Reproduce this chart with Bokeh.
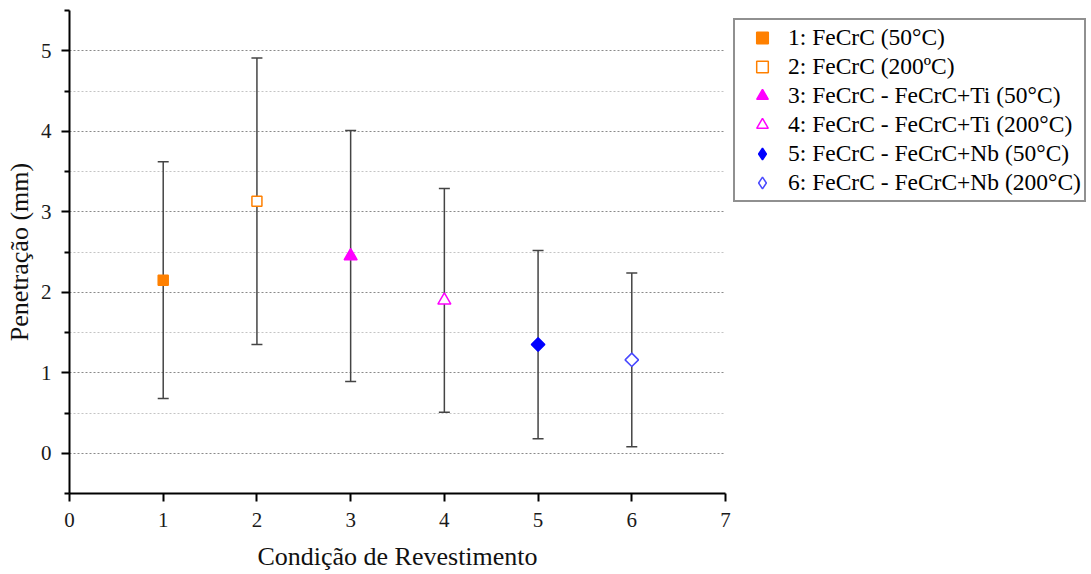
from bokeh.plotting import figure
from bokeh.models import (ColumnDataSource, Whisker, TeeHead, Legend, LegendItem,
                          FixedTicker, Range1d)
from bokeh.embed import file_html
from bokeh.resources import INLINE

# ---- data ----
conditions = [1, 2, 3, 4, 5, 6]
means = [2.15, 3.13, 2.45, 1.90, 1.35, 1.16]
errors = [1.47, 1.78, 1.56, 1.39, 1.17, 1.08]
labels = [
    "1: FeCrC (50°C)",
    "2: FeCrC (200ºC)",
    "3: FeCrC - FeCrC+Ti (50°C)",
    "4: FeCrC - FeCrC+Ti (200°C)",
    "5: FeCrC - FeCrC+Nb (50°C)",
    "6: FeCrC - FeCrC+Nb (200°C)",
]
markers = ["square", "square", "triangle", "triangle", "square", "square"]
legend_markers = ["square", "square", "triangle", "triangle", "diamond", "diamond"]
angles = [0, 0, 0, 0, 0.785398, 0.785398]
colors = ["#FF8000", "#FF8000", "#FF00FF", "#FF00FF", "#0000FF", "#4848FF"]
filled = [True, False, True, False, True, False]
sizes = [10, 10, 13, 13, 9.5, 9.5]
x_ticks = [0, 1, 2, 3, 4, 5, 6, 7]
y_ticks = [0, 1, 2, 3, 4, 5]
y_minor = [0.5, 1.5, 2.5, 3.5, 4.5]

FONT = "Liberation Serif"

p = figure(frame_width=656, frame_height=483, output_backend="svg",
           toolbar_location=None,
           x_range=Range1d(0, 7), y_range=Range1d(-0.5, 5.5),
           min_border_left=69, min_border_top=10, min_border_right=0,
           min_border_bottom=77)
p.outline_line_color = None
p.background_fill_color = "white"
p.border_fill_color = "white"

# error bars
lower = [m - e for m, e in zip(means, errors)]
upper = [m + e for m, e in zip(means, errors)]
esrc = ColumnDataSource(dict(x=conditions, lower=lower, upper=upper))
wh = Whisker(source=esrc, base="x", lower="lower", upper="upper",
             line_color="#444444", line_width=1.5,
             upper_head=TeeHead(size=11, line_color="#444444", line_width=1.5),
             lower_head=TeeHead(size=11, line_color="#444444", line_width=1.5),
             level="underlay")
p.add_layout(wh)

items = []
for i in range(len(conditions)):
    fill = colors[i] if filled[i] else "white"
    src = ColumnDataSource(dict(x=[conditions[i]], y=[means[i]]))
    r = p.scatter("x", "y", source=src, marker=markers[i], size=sizes[i],
                  angle=angles[i],
                  line_color=colors[i], line_width=1.5, fill_color=fill)
    if legend_markers[i] != markers[i]:
        # legend-only proxy (legend glyphs are never rotated)
        psrc = ColumnDataSource(dict(x=[float("nan")], y=[float("nan")]))
        r = p.scatter("x", "y", source=psrc, marker=legend_markers[i], size=sizes[i],
                      line_color=colors[i], line_width=1.5, fill_color=fill)
    items.append(LegendItem(label=labels[i], renderers=[r]))

legend = Legend(items=items, location="top_left",
                label_text_font=FONT, label_text_font_size="23.5px",
                label_text_color="#000000",
                glyph_width=48, glyph_height=29, label_height=29,
                label_standoff=2, spacing=0, padding=3, margin=8,
                border_line_color="#222222", border_line_width=2.5,
                background_fill_color="white", background_fill_alpha=1)
p.add_layout(legend, "right")

# axes
for ax in (p.xaxis[0], p.yaxis[0]):
    ax.axis_line_width = 2
    ax.axis_line_color = "black"
    ax.major_tick_line_color = "black"
    ax.major_tick_line_width = 2
    ax.minor_tick_line_color = "black"
    ax.minor_tick_line_width = 2
    ax.major_tick_in = 0
    ax.major_tick_out = 8
    ax.minor_tick_in = 0
    ax.minor_tick_out = 5
    ax.major_label_text_font = FONT
    ax.major_label_text_font_size = "21px"
    ax.major_label_text_color = "#1a1a1a"
    ax.axis_label_text_font = FONT
    ax.axis_label_text_font_size = "26px"
    ax.axis_label_text_font_style = "normal"
    ax.axis_label_text_color = "#111111"

p.xaxis.ticker = FixedTicker(ticks=x_ticks)
p.yaxis.ticker = FixedTicker(ticks=y_ticks, minor_ticks=[-0.5] + y_minor + [5.5])
p.xaxis.axis_label = "Condição de Revestimento"
p.yaxis.axis_label = "Penetração (mm)"
p.xaxis.major_label_standoff = 11
p.yaxis.major_label_standoff = 10
p.xaxis.axis_label_standoff = 12
p.yaxis.axis_label_standoff = 4

# grids
p.xgrid.grid_line_color = None
p.ygrid.ticker = FixedTicker(ticks=y_ticks, minor_ticks=y_minor)
p.ygrid.grid_line_color = "#8a8a8a"
p.ygrid.grid_line_dash = "2 2"
p.ygrid.grid_line_width = 1.2
p.ygrid.minor_grid_line_color = "#c4c4c4"
p.ygrid.minor_grid_line_dash = "2 2"
p.ygrid.minor_grid_line_width = 1

open("out.html", "w").write(file_html(p, INLINE))
